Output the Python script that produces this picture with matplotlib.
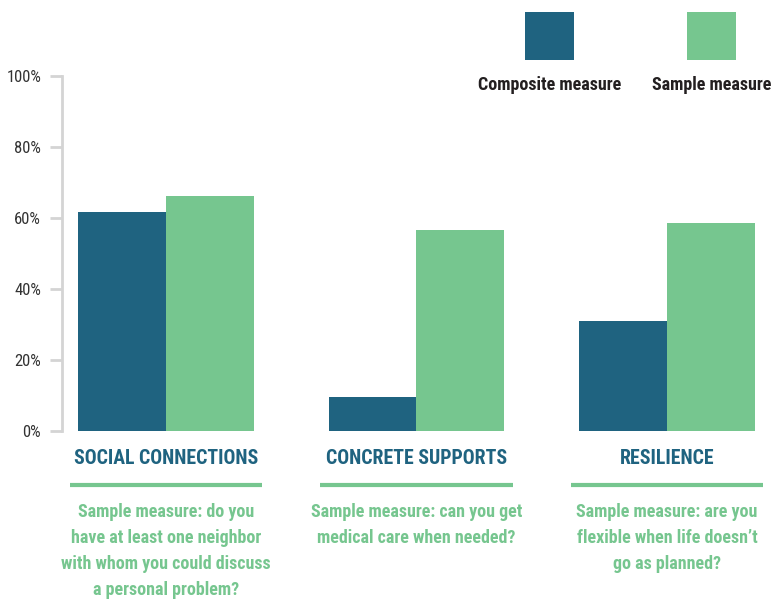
import matplotlib
matplotlib.use("Agg")
import matplotlib.pyplot as plt
import matplotlib.transforms as mtransforms
from matplotlib.patches import Rectangle
import numpy as np

categories = ["SOCIAL CONNECTIONS", "CONCRETE SUPPORTS", "RESILIENCE"]
composite = [61.7, 9.6, 31.0]
sample = [66.2, 56.6, 58.6]
series_names = ["Composite measure", "Sample measure"]
notes = [
    "Sample measure: do you\nhave at least one neighbor\nwith whom you could discuss\na personal problem?",
    "Sample measure: can you get\nmedical care when needed?",
    "Sample measure: are you\nflexible when life doesn\u2019t\ngo as planned?",
]
yticks = [0, 20, 40, 60, 80, 100]
ytick_labels = ["0%", "20%", "40%", "60%", "80%", "100%"]

TEAL = "#1f6380"
GREEN = "#76c68f"
FONT = ["Roboto Condensed", "DejaVu Sans"]

W, H = 774, 600
fig = plt.figure(figsize=(W / 100, H / 100), dpi=100)
ax = fig.add_axes([62 / W, (H - 431) / H, 712 / W, 355 / H])

x = np.arange(len(categories))
bw = 0.351
ax.bar(x - bw / 2, composite, width=bw, color=TEAL, linewidth=0)
ax.bar(x + bw / 2, sample, width=bw, color=GREEN, linewidth=0)

ax.set_xlim(-0.415, 2.427)
ax.set_ylim(0, 100)
for s in ["top", "right", "bottom"]:
    ax.spines[s].set_visible(False)
ax.spines["left"].set_color("#d4d4d4")
ax.spines["left"].set_linewidth(2)
ax.set_xticks([])
ax.set_yticks(yticks)
ax.set_yticklabels(ytick_labels, family=FONT, fontsize=12, color="#333333")
ax.tick_params(axis="y", length=9, width=2, color="#d4d4d4", pad=6)

trans = mtransforms.blended_transform_factory(ax.transData, fig.transFigure)
for i, cat in enumerate(categories):
    ax.text(i, (H - 459) / H, cat, transform=trans, ha="center", va="center",
            family=FONT, fontweight="bold", fontsize=14.2, color=TEAL, clip_on=False)
    ax.plot([i - 0.385, i + 0.385], [(H - 485) / H] * 2, transform=trans,
            color=GREEN, lw=3, clip_on=False, solid_capstyle="butt")
    ax.text(i, (H - 503) / H, notes[i], transform=trans, ha="center", va="top",
            family=FONT, fontweight="bold", fontsize=13, color=GREEN,
            linespacing=1.56, clip_on=False)

# legend
for cx, name, col in [(550, series_names[0], TEAL), (712, series_names[1], GREEN)]:
    fig.add_artist(Rectangle(((cx - 25) / W, (H - 60) / H), 49 / W, 48 / H,
                             transform=fig.transFigure, color=col, lw=0))
    fig.text(cx / W, (H - 85) / H, name, ha="center", va="center", family=FONT,
             fontweight="bold", fontsize=13, color="#231f20")

fig.savefig("out.png", dpi=100)
